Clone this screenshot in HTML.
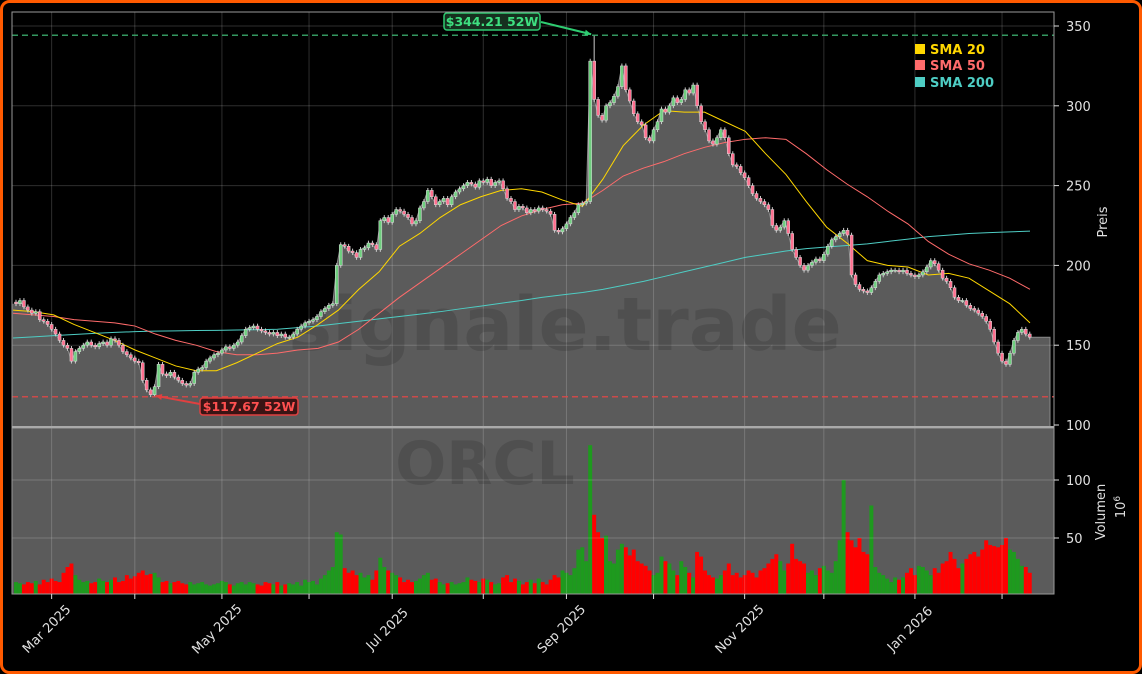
<!DOCTYPE html>
<html><head><meta charset="utf-8">
<style>
html,body{margin:0;padding:0;background:#000;}
svg{display:block;font-family:"DejaVu Sans","Liberation Sans",sans-serif;}
</style></head>
<body>
<svg id="chart" width="1142" height="674" viewBox="0 0 1142 674" xmlns="http://www.w3.org/2000/svg">
<rect x="1.5" y="1.5" width="1139" height="671" rx="8" fill="#000" stroke="#ff5a00" stroke-width="3"/>
<g id="price-layer"></g>
<g id="vol-layer"></g>
<g id="axis-layer"></g>
</svg>
<script>
const closes = [
176,178,174,172,
170,171,166,165,163,
160,157,153,150,148,
140,146,148,150,152,
150,149,151,152,150,
154,153,150,146,144,
142,140,139,128,122,
119,124,138,132,131,
133,130,128,126,125,
126,133,135,136,140,
142,144,145,147,149,
148,150,152,156,160,
161,162,160,159,158,
157,158,156,157,155,
155,157,160,162,164,
165,166,168,171,173,
175,176,200,213,212,
209,208,205,210,211,
214,213,210,228,230,
227,232,235,234,232,
230,226,228,236,240,
247,243,238,240,242,
238,243,246,248,250,
252,251,249,253,252,
254,250,252,253,248,
242,240,235,237,236,
233,235,234,236,235,
234,232,222,221,223,
226,230,233,238,239,
240,328,304,294,291,
300,302,306,312,325,
310,303,295,290,288,
280,278,285,290,298,
296,300,305,302,304,
310,308,313,300,290,
285,278,276,280,285,
280,270,263,262,258,
255,250,245,242,240,
238,235,225,222,224,
228,220,210,205,200,
197,200,202,204,203,
207,212,216,218,220,
222,219,194,188,185,
184,183,186,190,194,
195,196,197,197,196,
197,195,194,193,194,
196,199,203,201,197,
192,190,186,180,178,
178,175,173,172,170,
168,165,160,152,145,
140,138,145,153,158,
160,157,155
];
const volumes = [
12,11,10,12,
11,13,10,14,12,
15,13,12,20,25,
28,18,14,12,13,
11,12,15,13,12,
14,16,12,13,18,
15,17,20,22,18,
19,20,16,12,13,
11,12,13,11,10,
12,10,11,12,10,
9,10,11,13,12,
10,9,11,12,10,
12,11,10,9,12,
11,10,12,9,10,
11,10,12,9,14,
12,13,10,15,18,
22,25,55,53,24,
20,22,18,20,16,
18,14,22,33,25,
22,20,18,16,12,
14,12,13,15,18,
20,14,15,12,10,
11,12,10,11,12,
16,14,13,12,15,
14,12,10,11,16,
18,12,15,13,10,
12,14,11,15,12,
10,14,18,16,22,
20,18,24,40,42,
30,130,70,55,50,
52,30,28,40,45,
42,35,40,30,28,
26,22,18,20,34,
30,28,22,18,30,
25,20,16,38,34,
22,18,16,15,18,
22,28,18,20,16,
18,22,20,16,22,
24,28,32,36,30,
22,28,45,32,30,
28,20,22,18,24,
26,22,20,30,48,
100,55,48,42,50,
38,36,78,25,20,
18,15,12,16,14,
16,20,24,18,26,
25,22,18,24,20,
28,30,38,32,24,
28,32,36,38,34,
40,48,44,43,42,
44,50,40,38,32,
26,25,20
];
const sma20 = [172,171,169,163,158,153,147,142,137,134,134,139,145,151,155,163,172,185,196,212,220,230,238,243,247,248,246,241,237,254,275,288,297,296,296,290,284,270,257,240,224,214,203,200,199,194,195,192,184,176,164];
const sma50 = [170,169,168,166,165,164,162,157,153,150,146,144,144,145,147,148,152,160,170,180,189,198,207,216,225,231,235,238,239,247,256,261,265,270,274,277,279,280,279,270,260,251,243,234,226,215,207,201,197,192,185];
const sma200 = [154.5,155.2,156,156.7,157.4,158,158.5,158.8,159,159.2,159.3,159.5,159.7,160,161,162,163.5,165,166.5,168,169.5,171,172.8,174.5,176.3,178,180,181.5,183,185,187.5,190,193,196,199,202,205,207,209,210.5,211.5,212.5,213.5,215,216.5,218,219,220,220.5,221,221.5];
const priceTicks = [100,150,200,250,300,350];
const volTicks = [50,100];
const monthLabels = ["Mar 2025","May 2025","Jul 2025","Sep 2025","Nov 2025","Jan 2026"];
const high52 = 344.21, high52Idx = 146;
const low52 = 117.67, low52Idx = 35;

const NS="http://www.w3.org/2000/svg";
const L=12,R=1054,PT=12,PB=428,VB=594;
const xi=i=>16+i*3.96;
const xw=w=>13+w*20.34;
const yp=p=>425-(p-100)*1.596;
const yv=v=>596-v*1.16;
function mk(tag,attrs,parent){const e=document.createElementNS(NS,tag);for(const k in attrs)e.setAttribute(k,attrs[k]);parent.appendChild(e);return e;}
const gP=document.getElementById('price-layer'),gV=document.getElementById('vol-layer'),gA=document.getElementById('axis-layer');

const dates=[];{let d=new Date(Date.UTC(2025,1,18));while(dates.length<closes.length){const w=d.getUTCDay();if(w!==0&&w!==6)dates.push(new Date(d));d=new Date(d.getTime()+86400000);}}
const monthTickIdx=[];for(let i=1;i<dates.length;i++){if(dates[i].getUTCMonth()!==dates[i-1].getUTCMonth())monthTickIdx.push(i);}

const last=closes[closes.length-1];
let pts=`${L},${PB} ${L},${yp(closes[0])} `;
closes.forEach((c,i)=>{pts+=`${xi(i)},${yp(c)} `;});
pts+=`1050,${yp(last)} 1050,${PB}`;
const area=mk('polygon',{points:pts,fill:'#5b5b5b'},gP);


const outline=mk('polyline',{points:closes.map((c,i)=>`${xi(i)},${yp(c)}`).join(' ')+` 1050,${yp(last)} 1050,${PB}`,fill:'none',stroke:'#8a8a8a','stroke-width':1},gP);



const vbg=mk('rect',{x:L,y:PB,width:R-L,height:VB-PB,fill:'#5b5b5b'},gV);



const grid=mk('g',{stroke:'#ffffff','stroke-opacity':0.18,'stroke-width':1},gA);


priceTicks.forEach(t=>{if(t>100)mk('line',{x1:L,x2:R,y1:yp(t),y2:yp(t)},grid);});
volTicks.forEach(t=>mk('line',{x1:L,x2:R,y1:yv(t),y2:yv(t)},grid));
monthTickIdx.forEach(i=>{mk('line',{x1:xi(i),x2:xi(i),y1:PT,y2:VB},grid);});

const wm1=mk('text',{x:565,y:350,'text-anchor':'middle','font-size':74,'font-weight':'bold',fill:'#000','fill-opacity':0.13},gA);
wm1.textContent='signale.trade';


const wm2=mk('text',{x:485,y:484,'text-anchor':'middle','font-size':60,'font-weight':'bold',fill:'#000','fill-opacity':0.13},gA);
wm2.textContent='ORCL';



volumes.forEach((v,i)=>{const o=i>0?closes[i-1]:closes[0];const up=closes[i]>=o;
const b=mk('rect',{x:xi(i)-1.98,y:yv(v),width:3.96,height:VB-yv(v),fill:up?'#1e9a1e':'#ff0000'},gV);

});

function smaLine(arr,color,name){const p=arr.map((v,w)=>`${xw(w)},${yp(v)}`).join(' ');
const l=mk('polyline',{points:p,fill:'none',stroke:color,'stroke-width':1},gA);

}
smaLine(sma200,'#4ecdc4','sma-200-line');
smaLine(sma50,'#ff6b6b','sma-50-line');
smaLine(sma20,'#ffd700','sma-20-line');

closes.forEach((c,i)=>{const o=i>0?closes[i-1]:c+1;const up=c>=o;
let hi=Math.max(o,c)+1.5,lo=Math.min(o,c)-1.5;
if(i===high52Idx)hi=high52;if(i===low52Idx)lo=low52;
const x=xi(i);
const w=mk('line',{x1:x,x2:x,y1:yp(hi),y2:yp(lo),stroke:'#cccccc','stroke-width':1},gA);


const top=yp(Math.max(o,c)),h=Math.max(1,yp(Math.min(o,c))-top);
const b=mk('rect',{x:x-1.5,y:top,width:3,height:h,fill:up?'#6fcf7f':'#ff6f8f',stroke:'#dddddd','stroke-width':0.5},gA);

});

const hl=mk('line',{x1:L,x2:R,y1:yp(high52),y2:yp(high52),stroke:'#3cb371','stroke-width':1.5,'stroke-dasharray':'6,4','stroke-opacity':0.85},gA);


const ll=mk('line',{x1:L,x2:R,y1:yp(low52),y2:yp(low52),stroke:'#e04848','stroke-width':1.5,'stroke-dasharray':'6,4','stroke-opacity':0.85},gA);



function annot(x,y,w,txt,fill,stroke,tc,ax1,ay1,ax2,ay2,name){
const g=mk('g',{},gA);


mk('line',{x1:ax1,y1:ay1,x2:ax2,y2:ay2,stroke:stroke,'stroke-width':2},g);
const ang=Math.atan2(ay2-ay1,ax2-ax1);const s=7;
mk('polygon',{points:`${ax2},${ay2} ${ax2-s*Math.cos(ang-0.45)},${ay2-s*Math.sin(ang-0.45)} ${ax2-s*Math.cos(ang+0.45)},${ay2-s*Math.sin(ang+0.45)}`,fill:stroke},g);
mk('rect',{x:x,y:y,width:w,height:17,rx:3,fill:fill,stroke:stroke,'stroke-width':1.5},g);
const t=mk('text',{x:x+w/2,y:y+13,'text-anchor':'middle','font-size':12.5,'font-weight':'bold',fill:tc},g);t.textContent=txt;}
annot(444,13,96,'$344.21 52W','#16301f','#2ecc71','#3ee080',541,22,xi(high52Idx)-3,yp(high52)-1,'high-52w-label');
annot(200,398,98,'$117.67 52W','#3a1414','#e04040','#ff5050',200,404,xi(low52Idx)+1,yp(low52)-1,'low-52w-label');

const sp=mk('g',{stroke:'#9a9a9a','stroke-width':1,fill:'none'},gA);


mk('rect',{x:L,y:PT,width:R-L,height:PB-PT},sp);
mk('rect',{x:L,y:PB,width:R-L,height:VB-PB},sp);
mk('line',{x1:L,x2:R,y1:PB-1,y2:PB-1,'stroke-width':2,stroke:'#aaa'},sp);

priceTicks.forEach(t=>{mk('line',{x1:R,x2:R+5,y1:yp(t),y2:yp(t),stroke:'#ddd'},gA);
const tx=mk('text',{x:R+12,y:yp(t)+5,'font-size':13,fill:'#e0e0e0'},gA);tx.textContent=t;

});
volTicks.forEach(t=>{mk('line',{x1:R,x2:R+5,y1:yv(t),y2:yv(t),stroke:'#ddd'},gA);
const tx=mk('text',{x:R+12,y:yv(t)+5,'font-size':13,fill:'#e0e0e0'},gA);tx.textContent=t;

});
const pl=mk('text',{x:0,y:0,'font-size':13,fill:'#e0e0e0','text-anchor':'middle',transform:'translate(1107,222) rotate(-90)'},gA);pl.textContent='Preis';


const vl=mk('text',{x:0,y:0,'font-size':13,fill:'#e0e0e0','text-anchor':'middle',transform:'translate(1105,512) rotate(-90)'},gA);vl.textContent='Volumen';


const vu=mk('text',{x:0,y:0,'font-size':13,fill:'#e0e0e0','text-anchor':'middle',transform:'translate(1125,507) rotate(-90)'},gA);vu.innerHTML='10<tspan dy="-5" font-size="9">6</tspan>';



monthTickIdx.forEach((i,k)=>{const x=xi(i);mk('line',{x1:x,x2:x,y1:VB,y2:VB+5,stroke:'#ddd'},gA);
if(k%2===0){const lab=monthLabels[k/2];if(lab){const t=mk('text',{x:0,y:0,'font-size':13,fill:'#e0e0e0','text-anchor':'middle',transform:`translate(${x-2},${VB+38}) rotate(-45)`},gA);t.textContent=lab;

}}});

const lg=mk('g',{},gA);


[['SMA 20','#ffd700',54],['SMA 50','#ff6b6b',70],['SMA 200','#4ecdc4',87]].forEach(([n,c,y])=>{
mk('rect',{x:915,y:y-10,width:10,height:10,fill:c},lg);
const t=mk('text',{x:930,y:y,'font-size':13,'font-weight':'bold',fill:c},lg);t.textContent=n;

});
</script>
</body></html>
